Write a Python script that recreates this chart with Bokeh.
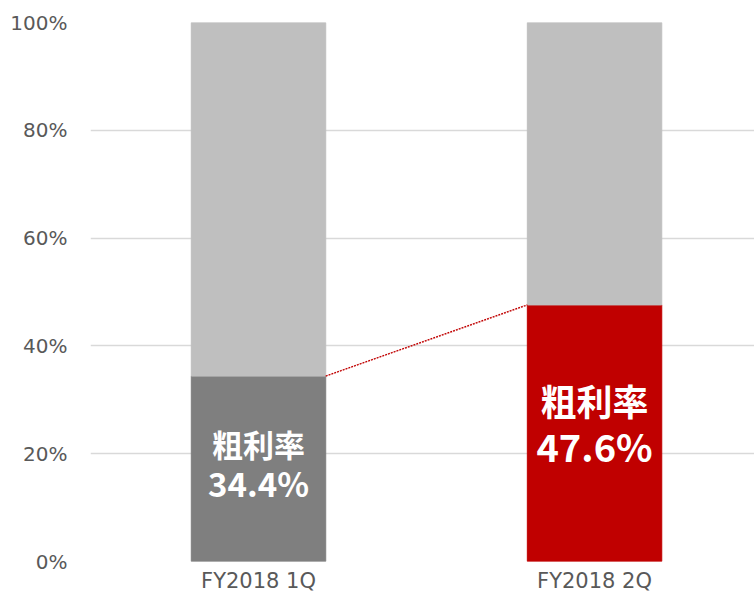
from bokeh.plotting import figure
from bokeh.models import Range1d, FixedTicker
from bokeh.core.properties import value
from bokeh.embed import file_html
from bokeh.resources import INLINE

# ---- data ----
categories = ["FY2018 1Q", "FY2018 2Q"]
gross_margin = [34.4, 47.6]
total = [100, 100]
label_title = "粗利率"
y_ticks = [0, 20, 40, 60, 80, 100]
y_tick_labels = ["0%", "20%", "40%", "60%", "80%", "100%"]

# ---- styles ----
bar_colors = ["#7f7f7f", "#c00000"]
rest_color = "#bfbfbf"
title_sizes = [31, 36]
value_sizes = [33, 38]
title_offsets = [-25, -33]
value_offsets = [14, 12]
bar_width = 0.4
x_extent = 1.976  # plot area extends slightly past the right edge of the picture

x = [i + 0.5 for i in range(len(categories))]
rest_bottom = gross_margin

p = figure(width=754, height=600, x_range=Range1d(0, x_extent), y_range=Range1d(0, 100),
           output_backend="svg", toolbar_location=None,
           min_border_left=90, min_border_right=0, min_border_top=22, min_border_bottom=39)
p.outline_line_color = None
p.background_fill_color = "white"

p.xgrid.visible = False
p.ygrid.grid_line_color = "#d9d9d9"
p.ygrid.grid_line_width = 1.3

p.yaxis.ticker = FixedTicker(ticks=y_ticks)
p.yaxis.major_label_overrides = {t: l for t, l in zip(y_ticks, y_tick_labels)}
p.xaxis.ticker = FixedTicker(ticks=x)
p.xaxis.major_label_overrides = {xx: c for xx, c in zip(x, categories)}
for ax in (p.xaxis, p.yaxis):
    ax.axis_line_color = None
    ax.major_tick_line_color = None
    ax.minor_tick_line_color = None
    ax.major_label_text_color = "#595959"
    ax.major_label_text_font = "DejaVu Sans"
p.yaxis.major_label_text_font_size = "20px"
p.yaxis.major_label_standoff = 17
p.xaxis.major_label_text_font_size = "21px"
p.xaxis.major_label_standoff = 1

p.vbar(x=x, bottom=0, top=gross_margin, width=bar_width, color=bar_colors)
p.vbar(x=x, bottom=rest_bottom, top=total, width=bar_width, color=rest_color)

p.line(x=[x[0] + bar_width / 2, x[1] - bar_width / 2], y=gross_margin,
       line_color="#c00000", line_width=1.4, line_dash="2 1")

for i in range(len(categories)):
    yc = gross_margin[i] / 2
    p.text(x=[x[i]], y=[yc], text=[label_title], text_color="white",
           text_font=value("Noto Sans CJK JP"), text_font_style="bold",
           text_font_size=f"{title_sizes[i]}px", text_align="center",
           text_baseline="middle", y_offset=title_offsets[i])
    p.text(x=[x[i]], y=[yc], text=[f"{gross_margin[i]:.1f}%"], text_color="white",
           text_font=value("Noto Sans CJK JP"), text_font_style="bold",
           text_font_size=f"{value_sizes[i]}px", text_align="center",
           text_baseline="middle", y_offset=value_offsets[i])

open("out.html", "w").write(file_html(p, INLINE))
